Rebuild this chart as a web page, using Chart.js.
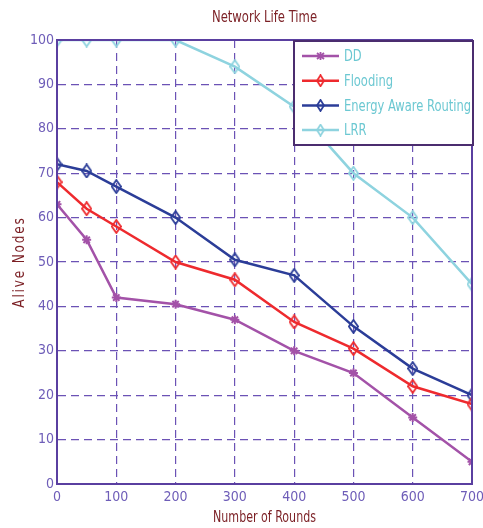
<!DOCTYPE html>
<html>
<head>
<meta charset="utf-8">
<script src="https://cdn.jsdelivr.net/npm/chart.js@4"></script>
<style>
  html, body { margin: 0; padding: 0; background: #fff; }
  #wrap { width: 483px; height: 528px; }
</style>
</head>
<body>
<div id="wrap"><canvas id="grafico"></canvas></div>
<script>
const rounds = [0, 50, 100, 200, 300, 400, 500, 600, 700];
const ddNodes = [63, 55, 42, 40.5, 37, 30, 25, 15, 5];
const floodingNodes = [68, 62, 58, 50, 46, 36.5, 30.5, 22, 18];
const earNodes = [72, 70.5, 67, 60, 50.5, 47, 35.5, 26, 20];
const lrrNodes = [100, 100, 100, 100, 94, 85, 70, 60, 45];
const seriesNames = ['DD', 'Flooding', 'Energy Aware Routing', 'LRR'];
const xTicks = [0, 100, 200, 300, 400, 500, 600, 700];
const yTicks = [0, 10, 20, 30, 40, 50, 60, 70, 80, 90, 100];

const FONT = '"DejaVu Sans Condensed", "Liberation Sans Narrow", sans-serif';
const GRID = '#6b52b5';
const AXIS = '#5a3fa0';
const TICK_TXT = '#6e5db8';
const TITLE_TXT = '#7b1f24';

// diamante alto e vuoto, come il marker di MATLAB
function diamante(colore, w, h) {
	let c = document.createElement('canvas');
	c.width = w; c.height = h;
	let ctx = c.getContext('2d');
	ctx.strokeStyle = colore;
	ctx.lineWidth = 1.8;
	ctx.beginPath();
	ctx.moveTo(w / 2, 1);
	ctx.lineTo(w - 1, h / 2);
	ctx.lineTo(w / 2, h - 1);
	ctx.lineTo(1, h / 2);
	ctx.closePath();
	ctx.stroke();
	return c;
}

// testo stretto orizzontalmente (il font originale e' un "narrow")
function testoStretto(ctx, testo, x, y, sx, rot) {
	ctx.save();
	ctx.translate(x, y);
	if (rot) ctx.rotate(rot);
	ctx.scale(sx, 1);
	ctx.fillText(testo, 0, 0);
	ctx.restore();
}

const colori = ['#a352a8', '#ee2a2e', '#2b3d98', '#8ed3df'];
const valori = [ddNodes, floodingNodes, earNodes, lrrNodes];

const datasets = valori.map((serie, i) => ({
	label: seriesNames[i],
	data: rounds.map((x, j) => ({ x: x, y: serie[j] })),
	borderColor: colori[i],
	backgroundColor: colori[i],
	borderWidth: 2.5,
	tension: 0,
	pointStyle: i === 0 ? 'star' : diamante(colori[i], 11, 15),
	pointRadius: 4.5,
	pointBorderWidth: 2,
	pointHoverRadius: 4.5,
}));

// Titoli, box degli assi e legenda dentro l'area del grafico
const extra = {
	id: 'extra',
	afterDatasetsDraw(chart) {
		let { ctx, chartArea: a } = chart;
		ctx.save();
		ctx.strokeStyle = AXIS;
		ctx.lineWidth = 2;
		ctx.strokeRect(a.left, a.top, a.right - a.left, a.bottom - a.top);
		ctx.restore();
	},
	afterDraw(chart) {
		let { ctx, chartArea: a } = chart;
		ctx.save();
		ctx.fillStyle = TITLE_TXT;
		ctx.font = '15px ' + FONT;
		ctx.textAlign = 'center';
		ctx.textBaseline = 'middle';
		testoStretto(ctx, 'Network Life Time', (a.left + a.right) / 2, 18, 0.86);
		testoStretto(ctx, 'Number of Rounds', (a.left + a.right) / 2, 518, 0.82);
		ctx.letterSpacing = '2px';
		testoStretto(ctx, 'Alive Nodes', 20, (a.top + a.bottom) / 2, 0.9, -Math.PI / 2);
		ctx.letterSpacing = '0px';

		// legenda
		let bx = 294, by = 41, bw = 179, bh = 104;
		ctx.fillStyle = '#fff';
		ctx.fillRect(bx, by, bw, bh);
		ctx.strokeStyle = '#4b2d6f';
		ctx.lineWidth = 2;
		ctx.strokeRect(bx, by, bw, bh);
		ctx.font = '16px ' + FONT;
		ctx.textAlign = 'left';
		seriesNames.forEach((nome, i) => {
			let y = 56 + i * 24.7;
			ctx.strokeStyle = colori[i];
			ctx.lineWidth = 2.5;
			ctx.beginPath();
			ctx.moveTo(302, y);
			ctx.lineTo(339, y);
			ctx.stroke();
			if (i === 0) {
				ctx.lineWidth = 1.8;
				ctx.beginPath();
				ctx.moveTo(320.5, y - 4); ctx.lineTo(320.5, y + 4);
				ctx.moveTo(317, y - 3); ctx.lineTo(324, y + 3);
				ctx.moveTo(324, y - 3); ctx.lineTo(317, y + 3);
				ctx.stroke();
			} else {
				ctx.drawImage(diamante(colori[i], 9, 13), 316, y - 6.5);
			}
			ctx.fillStyle = '#6cc8d2';
			testoStretto(ctx, nome, 344, y + 1, 0.8);
		});
		ctx.restore();
	}
};

new Chart(document.getElementById('grafico'), {
	type: 'line',
	data: { datasets: datasets },
	plugins: [extra],
	options: {
		responsive: true,
		maintainAspectRatio: false,
		animation: false,
		layout: { padding: { top: 40, right: 11, left: 0, bottom: 0 } },
		plugins: {
			legend: { display: false },
			title: { display: false },
			tooltip: { enabled: false },
		},
		scales: {
			x: {
				type: 'linear',
				min: 0,
				max: 700,
				afterBuildTicks: s => { s.ticks = xTicks.map(v => ({ value: v })); },
				afterFit: s => { s.height = 44; s.paddingLeft = 0; s.paddingRight = 0; },
				grid: { color: GRID, lineWidth: 1.2, drawTicks: false },
				border: { color: AXIS, width: 2, dash: [8, 5] },
				ticks: { color: TICK_TXT, font: { family: FONT, size: 14 }, padding: 5, maxRotation: 0 },
			},
			y: {
				min: 0,
				max: 100,
				afterBuildTicks: s => { s.ticks = yTicks.map(v => ({ value: v })); },
				afterFit: s => { s.width = 57; s.paddingTop = 0; s.paddingBottom = 0; },
				grid: { color: GRID, lineWidth: 1.2, drawTicks: false },
				border: { color: AXIS, width: 2, dash: [8, 5] },
				ticks: { color: TICK_TXT, font: { family: FONT, size: 14 }, padding: 3 },
			},
		},
	},
});
</script>
</body>
</html>
